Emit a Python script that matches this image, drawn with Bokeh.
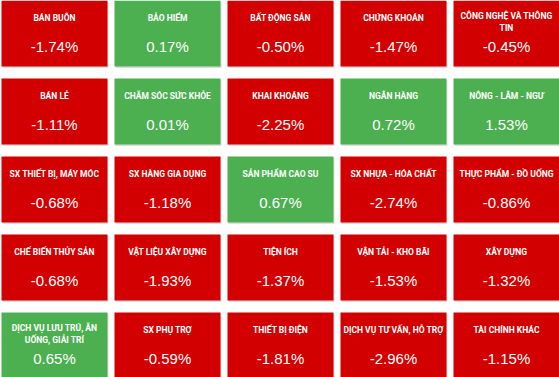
from bokeh.plotting import figure
from bokeh.models import ColumnDataSource, Range1d
from bokeh.core.properties import value
from bokeh.embed import file_html
from bokeh.resources import INLINE

names = [
    "BÁN BUÔN", "BẢO HIỂM", "BẤT ĐỘNG SẢN", "CHỨNG KHOÁN", "CÔNG NGHỆ VÀ THÔNG\nTIN",
    "BÁN LẺ", "CHĂM SÓC SỨC KHỎE", "KHAI KHOÁNG", "NGÂN HÀNG", "NÔNG - LÂM - NGƯ",
    "SX THIẾT BỊ, MÁY MÓC", "SX HÀNG GIA DỤNG", "SẢN PHẨM CAO SU", "SX NHỰA - HÓA CHẤT", "THỰC PHẨM - ĐỒ UỐNG",
    "CHẾ BIẾN THỦY SẢN", "VẬT LIỆU XÂY DỰNG", "TIỆN ÍCH", "VẬN TẢI - KHO BÃI", "XÂY DỰNG",
    "DỊCH VỤ LƯU TRÚ, ĂN\nUỐNG, GIẢI TRÍ", "SX PHỤ TRỢ", "THIẾT BỊ ĐIỆN", "DỊCH VỤ TƯ VẤN, HỖ TRỢ", "TÀI CHÍNH KHÁC",
]
changes = [
    -1.74, 0.17, -0.50, -1.47, -0.45,
    -1.11, 0.01, -2.25, 0.72, 1.53,
    -0.68, -1.18, 0.67, -2.74, -0.86,
    -0.68, -1.93, -1.37, -1.53, -1.32,
    0.65, -0.59, -1.81, -2.96, -1.15,
]

NCOL = 5
W, H = 559, 377
PITCH_X, PITCH_Y = 113, 78
TILE_W, TILE_H = 106, 66
X0 = 1

cols = [i % NCOL for i in range(len(names))]
rows = [i // NCOL for i in range(len(names))]
cx = [X0 + c * PITCH_X + TILE_W / 2 for c in cols]
cy = [r * PITCH_Y + TILE_H / 2 for r in rows]
ty = [r * PITCH_Y + (21.5 if "\n" in n else 17) for r, n in zip(rows, names)]
vy = [r * PITCH_Y + 46 for r in rows]
fill = ["#4caf50" if v > 0 else "#d20000" for v in changes]
labels = ["%.2f%%" % v for v in changes]

src = ColumnDataSource(dict(cx=cx, cy=cy, sx=[x + 1 for x in cx], sy=[y + 1.5 for y in cy],
                            ty=ty, vy=vy, fill=fill, name=names, label=labels))

p = figure(width=W, height=H, output_backend="svg", toolbar_location=None,
           x_range=Range1d(0, W), y_range=Range1d(H, 0), min_border=0)
p.axis.visible = False
p.grid.visible = False
p.outline_line_color = None
p.background_fill_color = "white"
p.border_fill_color = "white"

p.rect(x="sx", y="sy", width=TILE_W, height=TILE_H, source=src,
       fill_color="#9e9e9e", fill_alpha=0.35, line_color=None)
p.rect(x="cx", y="cy", width=TILE_W, height=TILE_H, source=src,
       fill_color="fill", line_color=None)
p.text(x="cx", y="ty", text="name", source=src, text_color="white",
       text_font=value("Roboto"), text_font_style="bold", text_font_size="8.5px",
       text_align="center", text_baseline="middle", text_line_height=1.2)
p.text(x="cx", y="vy", text="label", source=src, text_color="white",
       text_font=value("Liberation Sans"), text_font_size="15px",
       text_align="center", text_baseline="middle")

open("out.html", "w").write(file_html(p, INLINE))
